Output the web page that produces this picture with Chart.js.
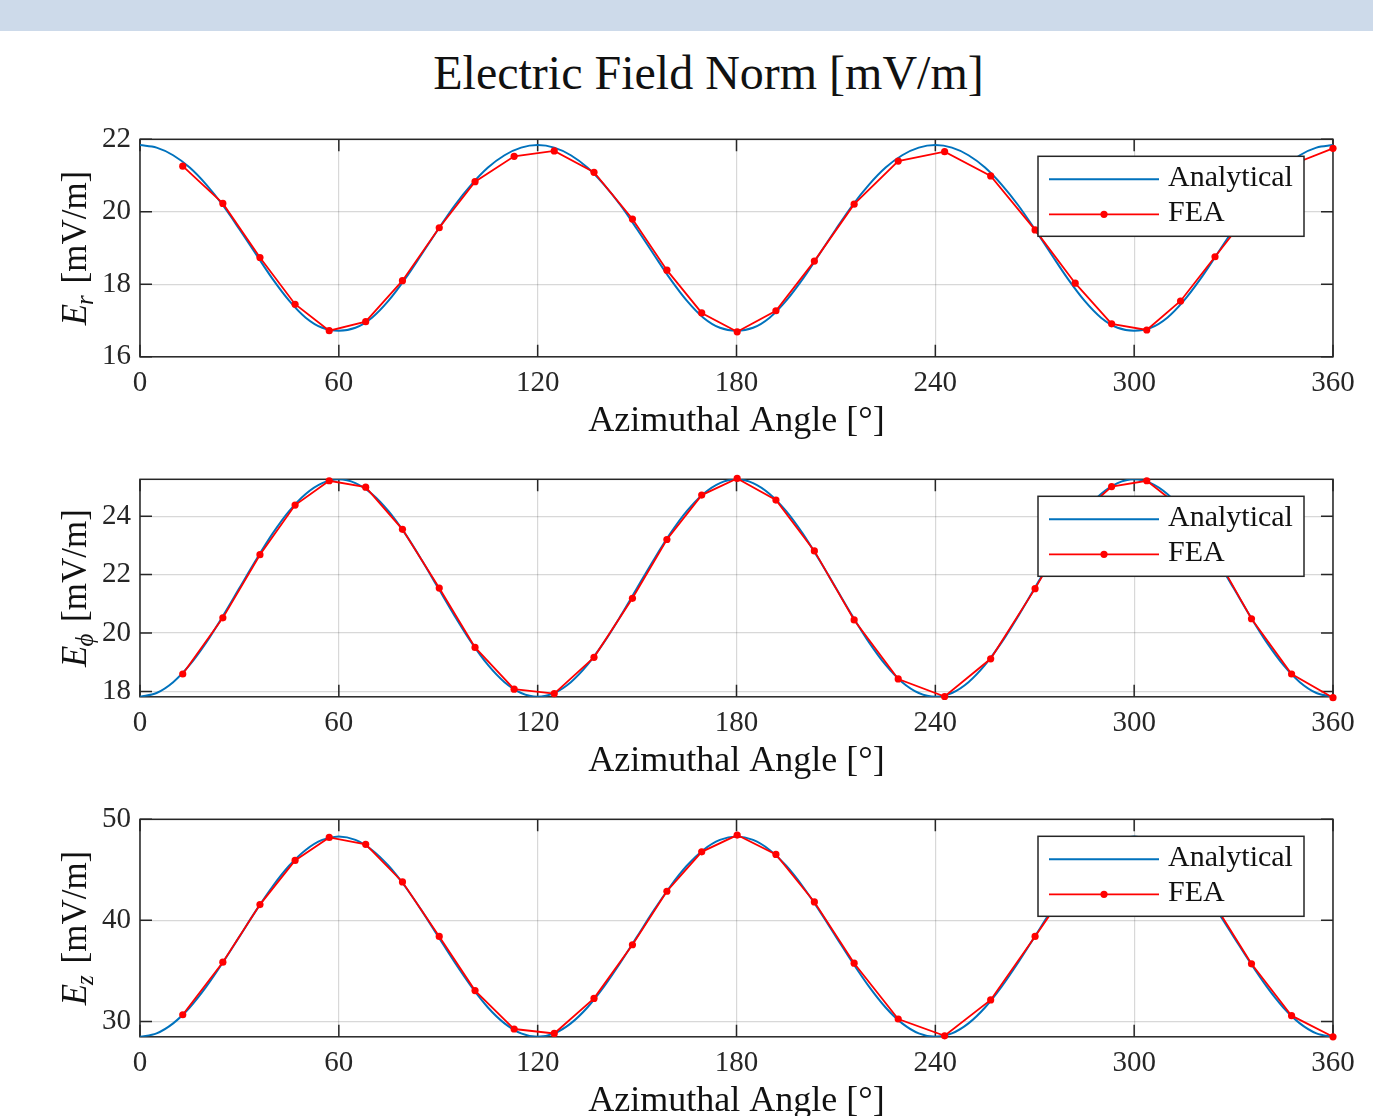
<!DOCTYPE html>
<html><head><meta charset="utf-8">
<script src="https://cdn.jsdelivr.net/npm/chart.js@4.4.1/dist/chart.umd.min.js"></script>
<style>
html,body{margin:0;padding:0;background:#fff;width:1373px;height:1116px;overflow:hidden;}
#band{position:absolute;left:0;top:0;width:1373px;height:31px;background:#cddaea;}
#title{position:absolute;left:0;width:1417px;top:45px;text-align:center;font-family:'Liberation Serif',serif;font-size:48px;color:#111;line-height:56px;white-space:nowrap;}
.pane{position:absolute;left:0;width:1373px;height:340px;}
canvas{display:block;}
</style></head><body>
<div id="band"></div>
<div id="title">Electric Field Norm [mV/m]</div>
<div class="pane" style="top:100px"><canvas id="c0" width="1373" height="340"></canvas></div>
<div class="pane" style="top:440px"><canvas id="c1" width="1373" height="340"></canvas></div>
<div class="pane" style="top:780px"><canvas id="c2" width="1373" height="340"></canvas></div>
<script>
// ---- data ----
const angleAna = [0,5,10,15,20,25,30,35,40,45,50,55,60,65,70,75,80,85,90,95,100,105,110,115,
  120,125,130,135,140,145,150,155,160,165,170,175,180,185,190,195,200,205,210,215,220,225,230,235,
  240,245,250,255,260,265,270,275,280,285,290,295,300,305,310,315,320,325,330,335,340,345,350,355,360];

const erAna = [21.84,21.77,21.56,21.22,20.75,20.18,19.52,18.83,18.15,17.55,17.08,16.80,16.72,16.80,17.08,17.55,18.15,18.83,19.52,20.18,20.75,21.22,21.56,21.77,
  21.84,21.77,21.56,21.22,20.75,20.18,19.52,18.83,18.15,17.55,17.08,16.80,16.72,16.80,17.08,17.55,18.15,18.83,19.52,20.18,20.75,21.22,21.56,21.77,
  21.84,21.77,21.56,21.22,20.75,20.18,19.52,18.83,18.15,17.55,17.08,16.80,16.72,16.80,17.08,17.55,18.15,18.83,19.52,20.18,20.75,21.22,21.56,21.77,
  21.84];
const ephiAna = [17.82,17.95,18.32,18.91,19.68,20.58,21.54,22.50,23.40,24.17,24.76,25.13,25.26,25.13,24.76,24.17,23.40,22.50,21.54,20.58,19.68,18.91,18.32,17.95,
  17.82,17.95,18.32,18.91,19.68,20.58,21.54,22.50,23.40,24.17,24.76,25.13,25.26,25.13,24.76,24.17,23.40,22.50,21.54,20.58,19.68,18.91,18.32,17.95,
  17.82,17.95,18.32,18.91,19.68,20.58,21.54,22.50,23.40,24.17,24.76,25.13,25.26,25.13,24.76,24.17,23.40,22.50,21.54,20.58,19.68,18.91,18.32,17.95,
  17.82];
const ezAna = [28.48,28.82,29.81,31.38,33.44,35.83,38.39,40.96,43.35,45.40,46.97,47.96,48.30,47.96,46.97,45.40,43.35,40.96,38.39,35.83,33.44,31.38,29.81,28.82,
  28.48,28.82,29.81,31.38,33.44,35.83,38.39,40.96,43.35,45.40,46.97,47.96,48.30,47.96,46.97,45.40,43.35,40.96,38.39,35.83,33.44,31.38,29.81,28.82,
  28.48,28.82,29.81,31.38,33.44,35.83,38.39,40.96,43.35,45.40,46.97,47.96,48.30,47.96,46.97,45.40,43.35,40.96,38.39,35.83,33.44,31.38,29.81,28.82,
  28.48];

const angleFEA = [12.9,25.0,36.2,46.8,57.1,68.1,79.2,90.3,101.1,112.9,125.0,137.0,148.6,159.0,169.5,180.2,
  191.9,203.5,215.5,228.8,242.8,256.7,270.1,282.2,293.2,303.8,314.0,324.4,335.4,347.5,360.0];
const erFEA = [21.26,20.23,18.74,17.45,16.72,16.97,18.10,19.56,20.83,21.53,21.68,21.09,19.80,18.39,17.21,16.69,
  17.27,18.64,20.21,21.40,21.66,20.99,19.50,18.03,16.91,16.74,17.54,18.76,20.05,21.30,21.75];
const ephiFEA = [18.60,20.52,22.68,24.38,25.21,24.99,23.55,21.54,19.51,18.08,17.93,19.17,21.19,23.20,24.72,25.29,
  24.55,22.81,20.45,18.43,17.83,19.12,21.52,23.90,25.01,25.21,24.30,22.70,20.49,18.60,17.79];
const ezFEA = [30.66,35.86,41.56,45.93,48.21,47.52,43.80,38.41,33.05,29.25,28.81,32.28,37.59,42.88,46.78,48.44,
  46.52,41.82,35.76,30.24,28.58,32.13,38.41,44.20,47.50,48.00,45.60,41.50,35.70,30.57,28.48];

const xTicks = [0,60,120,180,240,300,360];
const erTicks = [16,18,20,22];
const ephiTicks = [18,20,22,24];
const ezTicks = [30,40,50];
const legendLabels = ['Analytical','FEA'];
const xTitle = 'Azimuthal Angle [°]';

// ---- drawing ----
const FONT = '"Liberation Serif", "DejaVu Serif", serif';
const INK = '#262626';

const framePlugin = {
  id: 'matlabFrame',
  beforeDatasetsDraw(chart) {
    const {ctx, chartArea: a, scales: {x, y}} = chart;
    ctx.save();
    ctx.strokeStyle = INK; ctx.lineWidth = 1.5;
    ctx.strokeRect(a.left, a.top, a.right - a.left, a.bottom - a.top);
    ctx.beginPath();
    const L = 12;
    x.ticks.forEach(t => { const p = x.getPixelForValue(t.value);
      ctx.moveTo(p, a.bottom); ctx.lineTo(p, a.bottom - L);
      ctx.moveTo(p, a.top); ctx.lineTo(p, a.top + L); });
    y.ticks.forEach(t => { const p = y.getPixelForValue(t.value);
      ctx.moveTo(a.left, p); ctx.lineTo(a.left + L, p);
      ctx.moveTo(a.right, p); ctx.lineTo(a.right - L, p); });
    ctx.stroke();
    ctx.restore();
  },
  afterDatasetsDraw(chart) {
    const {ctx, chartArea: a} = chart;
    const ds = chart.data.datasets;
    const lx = a.right - 295, ly = a.top + 17, lw = 266, lh = 80;
    ctx.save();
    ctx.fillStyle = '#fff'; ctx.fillRect(lx, ly, lw, lh);
    ctx.strokeStyle = INK; ctx.lineWidth = 1.5; ctx.strokeRect(lx, ly, lw, lh);
    const rows = [ly + 23, ly + 58];
    ds.forEach((d, i) => {
      const yy = rows[i];
      ctx.strokeStyle = d.borderColor; ctx.lineWidth = d.borderWidth;
      ctx.beginPath(); ctx.moveTo(lx + 11, yy); ctx.lineTo(lx + 121, yy); ctx.stroke();
      if (d.pointRadius > 0) {
        ctx.fillStyle = d.pointBackgroundColor;
        ctx.beginPath(); ctx.arc(lx + 66, yy, d.pointRadius, 0, Math.PI * 2); ctx.fill();
      }
      ctx.fillStyle = '#111'; ctx.font = '30px ' + FONT;
      ctx.textBaseline = 'alphabetic'; ctx.textAlign = 'left';
      ctx.fillText(d.label, lx + 130, yy + 7);
    });
    ctx.restore();
  },
  afterDraw(chart) {
    const {ctx, chartArea: a} = chart;
    const sub = chart.options.plugins.ylab.sub;
    const cy = (a.top + a.bottom) / 2;
    ctx.save();
    ctx.translate(86, cy); ctx.rotate(-Math.PI / 2);
    ctx.fillStyle = '#111'; ctx.textBaseline = 'alphabetic'; ctx.textAlign = 'left';
    const fIt = 'italic 35px ' + FONT, fSub = 'italic 25px ' + FONT, fMain = '35px ' + FONT;
    const rest = ' [mV/m]';
    ctx.font = fIt; const wE = ctx.measureText('E').width;
    ctx.font = fSub; const wS = ctx.measureText(sub).width;
    ctx.font = fMain; const wR = ctx.measureText(rest).width;
    let x0 = -(wE + wS + 2 + wR) / 2;
    ctx.font = fIt; ctx.fillText('E', x0, 0);
    ctx.font = fSub; ctx.fillText(sub, x0 + wE - 1, 7);
    ctx.font = fMain; ctx.fillText(rest, x0 + wE + wS + 2, 0);
    ctx.restore();
  }
};

function pts(xs, ys) { return ys.map((v, i) => ({x: xs[i], y: v})); }

function makeChart(id, ana, fea, ymin, ymax, yTicks, sub) {
  const grid = {color: 'rgba(38,38,38,0.18)', lineWidth: 1.2, drawTicks: false};
  return new Chart(document.getElementById(id), {
    type: 'line',
    data: {datasets: [
      {label: legendLabels[0], data: pts(angleAna, ana), borderColor: '#0072BD', borderWidth: 2,
        pointRadius: 0, cubicInterpolationMode: 'monotone', fill: false, order: 2},
      {label: legendLabels[1], data: pts(angleFEA, fea), borderColor: '#FF0000', borderWidth: 1.8,
        pointRadius: 3.6, pointBorderWidth: 0, pointBackgroundColor: '#FF0000', pointBorderColor: '#FF0000',
        tension: 0, fill: false, clip: false, order: 1}
    ]},
    options: {
      responsive: false, animation: false, devicePixelRatio: 1,
      layout: {padding: {left: 0, right: 40, top: 39.3, bottom: 0}},
      plugins: {legend: {display: false}, tooltip: {enabled: false}, title: {display: false}, ylab: {sub: sub}},
      scales: {
        x: {type: 'linear', min: 0, max: 360,
          afterBuildTicks: s => { s.ticks = xTicks.map(v => ({value: v})); },
          afterFit: s => { s.height = 83.2; },
          grid: grid, border: {display: false},
          ticks: {padding: 9, color: INK, font: {family: FONT, size: 29}, maxRotation: 0, autoSkip: false, callback: v => String(v)},
          title: {display: true, text: xTitle, color: '#111', font: {family: FONT, size: 36, lineHeight: 1.05}, padding: 0}},
        y: {type: 'linear', min: ymin, max: ymax,
          afterBuildTicks: s => { s.ticks = yTicks.map(v => ({value: v})); },
          afterFit: s => { s.width = 140; },
          grid: grid, border: {display: false},
          ticks: {padding: 9, color: INK, font: {family: FONT, size: 29}, autoSkip: false, callback: v => String(v)}}
      }
    },
    plugins: [framePlugin]
  });
}

makeChart('c0', erAna, erFEA, 16, 22, erTicks, 'r');
makeChart('c1', ephiAna, ephiFEA, 17.82, 25.26, ephiTicks, 'ϕ');
makeChart('c2', ezAna, ezFEA, 28.48, 50, ezTicks, 'z');
</script>
</body></html>
